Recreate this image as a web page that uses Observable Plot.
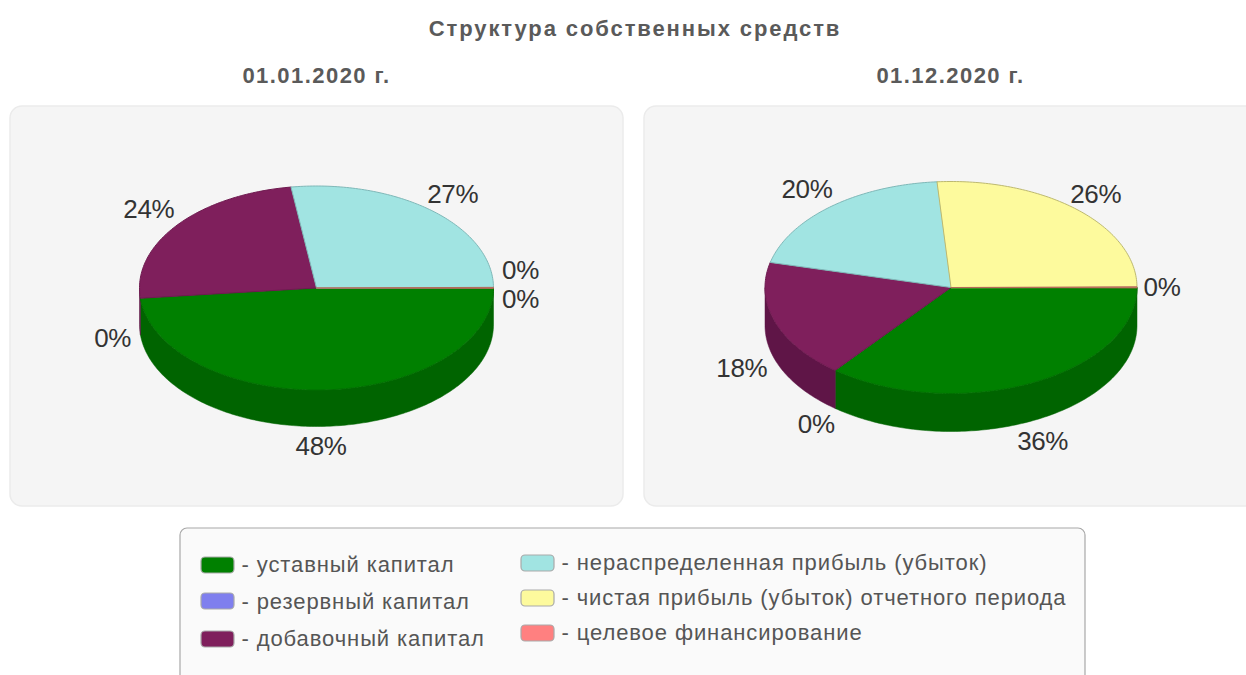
<!DOCTYPE html>
<html><head><meta charset="utf-8">
<style>html,body{margin:0;padding:0;background:#fff;overflow:hidden}svg{display:block}</style>
<script src="https://cdn.jsdelivr.net/npm/d3@7"></script>
<script src="https://cdn.jsdelivr.net/npm/@observablehq/plot@0.6"></script>
</head><body><script>
const mainTitle = "Структура собственных средств";
const dates = ["01.01.2020 г.", "01.12.2020 г."];
const categories = ["уставный капитал","резервный капитал","добавочный капитал","нераспределенная прибыль (убыток)","чистая прибыль (убыток) отчетного периода","целевое финансирование"];
const valuesJan = [48.4, 0, 24.3, 27.2, 0, 0.1];
const valuesDec = [35.7, 0, 18.1, 20.0, 26.1, 0.1];
const faceColors = ["#008000","#7f7fee","#7f1f5c","#a1e4e2","#fdfa9d","#ff8080"];
const wallColors = ["#006400","#6060c0","#5f1547","#80b8b8","#cfcc80","#c06060"];
const edgeColors = ["#006f00","#6868d0","#6f1a50","#7fb8b8","#bdb970","#b56a5a"];

// layout of the page
const W = 1246, H = 675;
const pies = [
  {date: dates[0], values: valuesJan, cx: 316, cy: 287.5, rx: 177, ry: 102, depth: 36.5, titleX: 316, nudgeX: [-3,7,0,3,-2,-2], nudgeY: [0,2,-3,-1,-17,12]},
  {date: dates[1], values: valuesDec, cx: 950.5, cy: 287, rx: 186, ry: 106, depth: 38, titleX: 950, nudgeX: [0,4,0,0,0,-4], nudgeY: [3,1,2,-2,0,1]}
];
const panels = [{x1: 10, x2: 623, y1: 106, y2: 506}, {x1: 644, x2: 1270, y1: 106, y2: 506}];
const legendBox = [{x1: 180, x2: 1085, y1: 528, y2: 700}];
const legendPos = [[201,557,241,564],[201,593,241,601],[201,631,241,638],[521,555,561,562],[521,590,561,597],[521,625,561,632]];

const rad = d => d * Math.PI / 180;
const faces = [], walls = [], labels = [];
pies.forEach((p, pi) => {
  let acc = 0;
  p.values.forEach((v, i) => {
    const a0 = acc / 100 * 360, a1 = (acc + v) / 100 * 360;
    acc += v;
    const mid = rad((a0 + a1) / 2);
    const s = Math.sin(mid);
    labels.push({
      x: p.cx - 3 + (p.rx + 32) * Math.cos(mid) + p.nudgeX[i],
      y: p.cy + (p.ry + 20) * s + (s > 0.02 ? p.depth : 0) + p.nudgeY[i],
      text: Math.round(v) + "%"
    });
    if (v <= 0) return;
    const id = pi + "-" + i;
    const arc = [];
    const n = Math.max(2, Math.ceil(a1 - a0));
    for (let k = 0; k <= n; k++) arc.push(rad(a0 + (a1 - a0) * k / n));
    faces.push({id, key: categories[i] + "|edge", fillKey: categories[i], x: p.cx, y: p.cy});
    for (const t of arc) faces.push({id, fillKey: categories[i], key: categories[i] + "|edge", x: p.cx + p.rx * Math.cos(t), y: p.cy + p.ry * Math.sin(t)});
    const b0 = Math.max(a0, 0), b1 = Math.min(a1, 180);
    if (b1 > b0) {
      const m = Math.max(2, Math.ceil(b1 - b0)), top = [];
      for (let k = 0; k <= m; k++) top.push(rad(b0 + (b1 - b0) * k / m));
      for (const t of top) walls.push({id, key: categories[i] + "|wall", x: p.cx + p.rx * Math.cos(t), y: p.cy + p.ry * Math.sin(t)});
      for (const t of top.slice().reverse()) walls.push({id, key: categories[i] + "|wall", x: p.cx + p.rx * Math.cos(t), y: p.cy + p.depth + p.ry * Math.sin(t)});
    }
  });
});

const spacing = ls => (index, scales, values, dims, ctx, next) => {
  const g = next(index, scales, values, dims, ctx);
  g.setAttribute("letter-spacing", ls);
  return g;
};
const legendRows = categories.map((c, i) => ({c, sx: legendPos[i][0], sy: legendPos[i][1], tx: legendPos[i][2], ty: legendPos[i][3], label: "- " + c}));

const chart = Plot.plot({
  width: W, height: H, margin: 0,
  style: {background: "#fff", fontFamily: "'Liberation Sans', Arial, sans-serif"},
  x: {domain: [0, W], range: [0, W], axis: null},
  y: {domain: [0, H], range: [0, H], axis: null},
  color: {
    domain: [...categories, ...categories.map(c => c + "|wall"), ...categories.map(c => c + "|edge")],
    range: [...faceColors, ...wallColors, ...edgeColors]
  },
  marks: [
    Plot.text([mainTitle], {x: () => 634.5, y: () => 28, text: d => d, fontSize: 22, fontWeight: "bold", fill: "#5a5a5a", fontFamily: "'Liberation Sans'", render: spacing("1.9px")}),
    Plot.text(pies, {x: "titleX", y: () => 75, text: "date", fontSize: 22, fontWeight: "bold", fill: "#5a5a5a", fontFamily: "'Liberation Sans'", render: spacing("1.45px")}),
    Plot.rect(panels, {x1: "x1", x2: "x2", y1: "y1", y2: "y2", rx: 12, fill: "#f5f5f5", stroke: "#ebebeb", strokeWidth: 1.5}),
    Plot.line(walls, {x: "x", y: "y", z: "id", fill: "key", stroke: "key", strokeWidth: 0.5, curve: "linear-closed"}),
    Plot.line(faces, {x: "x", y: "y", z: "id", fill: "fillKey", stroke: "key", strokeWidth: 1, curve: "linear-closed"}),
    Plot.text(labels, {x: "x", y: "y", text: "text", fontSize: 26, fill: "#333", fontFamily: "'Liberation Sans'", render: spacing("-0.4px")}),
    Plot.rect(legendBox, {x1: "x1", x2: "x2", y1: "y1", y2: "y2", rx: 7, fill: "#fafafa", stroke: "#a8a8a8", strokeWidth: 1.2}),
    Plot.rect(legendRows, {x1: "sx", x2: d => d.sx + 33, y1: "sy", y2: d => d.sy + 16, rx: 4, fill: "c", stroke: "#a9a9a9", strokeWidth: 1.2}),
    Plot.text(legendRows, {x: "tx", y: "ty", text: "label", textAnchor: "start", fontSize: 22, fill: "#555", fontFamily: "'Liberation Sans'", render: spacing("0.9px")})
  ]
});
document.body.appendChild(chart);
</script></body></html>
